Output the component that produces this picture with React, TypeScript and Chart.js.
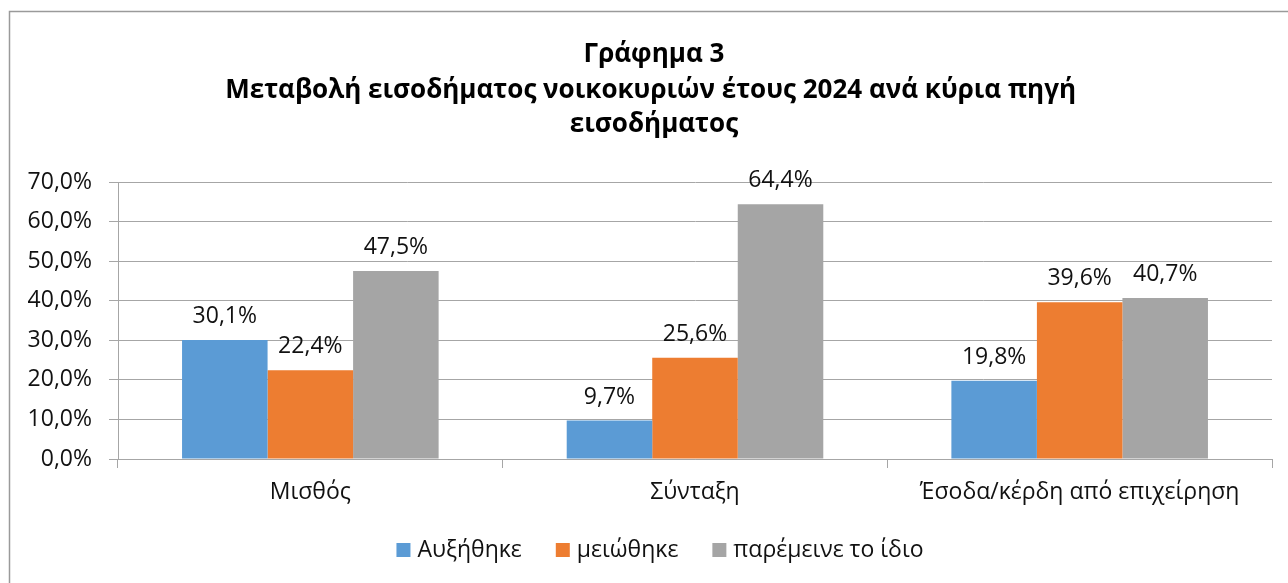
import React, { useEffect, useRef } from "react";
import { Chart, registerables } from "chart.js";

Chart.register(...registerables);

const categories = ["Μισθός", "Σύνταξη", "Έσοδα/κέρδη από επιχείρηση"];
const seriesNames = ["Αυξήθηκε", "μειώθηκε", "παρέμεινε το ίδιο"];
const increased = [30.1, 9.7, 19.8];
const decreased = [22.4, 25.6, 39.6];
const unchanged = [47.5, 64.4, 40.7];
const seriesColors = ["#5B9BD5", "#ED7D31", "#A5A5A5"];
const titleLines = [
  "Γράφημα 3",
  "Μεταβολή εισοδήματος νοικοκυριών έτους 2024 ανά κύρια πηγή ",
  "εισοδήματος",
];
const yMin = 0;
const yMax = 70;
const yStep = 10;

const FONT = "'Open Sans', 'Noto Sans', sans-serif";
const TEXT_SIZE = 23;
const TITLE_SIZE = 26;
const TEXT_COLOR = "#111111";
const GRID_COLOR = "#a6a6a6";

const fmt = (v: number) => v.toFixed(1).replace(".", ",") + "%";

const decorPlugin = {
  id: "decor",
  beforeDraw(chart: any) {
    const ctx = chart.ctx;
    ctx.save();
    ctx.fillStyle = "#ffffff";
    ctx.fillRect(0, 0, chart.width, chart.height);
    ctx.strokeStyle = "#9a9a9a";
    ctx.lineWidth = 1.5;
    ctx.beginPath();
    ctx.moveTo(9.5, chart.height + 5);
    ctx.lineTo(9.5, 11.5);
    ctx.lineTo(chart.width + 5, 11.5);
    ctx.stroke();
    ctx.restore();
  },
  afterDatasetsDraw(chart: any) {
    const ctx = chart.ctx;
    ctx.save();
    ctx.font = `${TEXT_SIZE}px ${FONT}`;
    ctx.fillStyle = TEXT_COLOR;
    ctx.textAlign = "center";
    ctx.textBaseline = "alphabetic";
    chart.data.datasets.forEach((ds: any, di: number) => {
      const meta = chart.getDatasetMeta(di);
      meta.data.forEach((bar: any, i: number) => {
        ctx.fillText(fmt(ds.data[i]), bar.x, bar.y - 17);
      });
    });
    ctx.restore();
  },
  afterDraw(chart: any) {
    const ctx = chart.ctx;
    const cx = 654;
    ctx.save();
    // title
    ctx.font = `bold ${TITLE_SIZE}px ${FONT}`;
    ctx.fillStyle = "#000000";
    ctx.textAlign = "left";
    ctx.textBaseline = "alphabetic";
    const baselines = [62, 98, 132];
    titleLines.forEach((line, i) => {
      const w = ctx.measureText(line).width;
      ctx.fillText(line, cx - w / 2, baselines[i]);
    });
    // legend
    ctx.font = `${TEXT_SIZE}px ${FONT}`;
    const box = 14;
    const gapText = 7;
    const gapItem = 34;
    const widths = seriesNames.map((n) => ctx.measureText(n).width);
    const total =
      widths.reduce((a, b) => a + b, 0) +
      seriesNames.length * (box + gapText) +
      (seriesNames.length - 1) * gapItem;
    let x = 660 - total / 2;
    const ly = 550;
    ctx.textBaseline = "middle";
    seriesNames.forEach((n, i) => {
      ctx.fillStyle = seriesColors[i];
      ctx.fillRect(x, ly - box / 2, box, box);
      x += box + gapText;
      ctx.fillStyle = TEXT_COLOR;
      ctx.fillText(n, x, ly);
      x += widths[i] + gapItem;
    });
    ctx.restore();
  },
};

export default function App() {
  const ref = useRef<HTMLCanvasElement | null>(null);
  useEffect(() => {
    document.body.style.margin = "0";
    const canvas = ref.current;
    if (!canvas) return;
    const chart = new Chart(canvas, {
      type: "bar",
      data: {
        labels: categories,
        datasets: [increased, decreased, unchanged].map((d, i) => ({
          label: seriesNames[i],
          data: d,
          backgroundColor: seriesColors[i],
          borderWidth: 0,
          barPercentage: 1,
          categoryPercentage: 0.667,
        })),
      },
      options: {
        animation: false,
        responsive: false,
        maintainAspectRatio: false,
        layout: { padding: { top: 182, right: 16, left: 0, bottom: 0 } },
        plugins: {
          legend: { display: false },
          title: { display: false },
          tooltip: { enabled: false },
        },
        scales: {
          x: {
            grid: {
              display: true,
              drawOnChartArea: false,
              drawTicks: true,
              tickLength: 9,
              color: GRID_COLOR,
              offset: true,
            },
            border: { display: true, color: GRID_COLOR },
            ticks: {
              font: { family: FONT, size: TEXT_SIZE },
              color: TEXT_COLOR,
              padding: 11,
              maxRotation: 0,
              autoSkip: false,
            },
            afterFit: (s: any) => {
              s.height = 124;
            },
          },
          y: {
            min: yMin,
            max: yMax,
            grid: { color: GRID_COLOR, tickLength: 9 },
            border: { display: true, color: GRID_COLOR },
            ticks: {
              stepSize: yStep,
              font: { family: FONT, size: TEXT_SIZE },
              color: TEXT_COLOR,
              padding: 17,
              callback: (v: any) => fmt(Number(v)),
            },
            afterFit: (s: any) => {
              s.width = 118;
            },
          },
        },
      },
      plugins: [decorPlugin],
    });
    return () => chart.destroy();
  }, []);
  return (
    <div style={{ position: "absolute", left: 0, top: 0, width: 1288, height: 583 }}>
      <canvas ref={ref} width={1288} height={583} style={{ display: "block" }} />
    </div>
  );
}
